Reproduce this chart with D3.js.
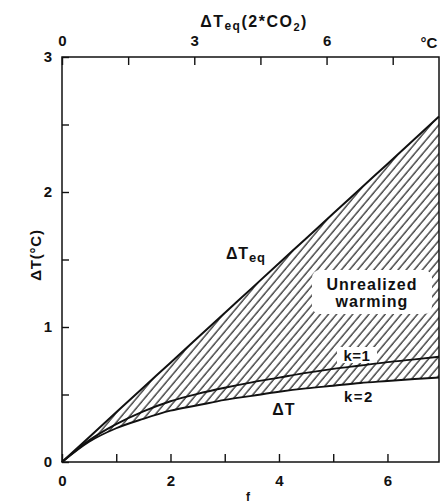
<!DOCTYPE html>
<html><head><meta charset="utf-8">
<script src="https://cdn.jsdelivr.net/npm/d3@7/dist/d3.min.js"></script>
<style>body{margin:0;background:#fff}svg{display:block}</style>
</head><body>
<svg id="c" width="446" height="503"></svg>
<script>
// ---- data ----
const fValues   = [0, 0.5, 1, 1.5, 2, 2.5, 3, 3.5, 4, 4.5, 5, 5.5, 6, 6.5, 6.95];
const teqValues = [0, 0.184, 0.368, 0.552, 0.736, 0.92, 1.104, 1.288, 1.472, 1.656, 1.84, 2.024, 2.208, 2.392, 2.56];
const k1Values  = [0, 0.16, 0.28, 0.375, 0.45, 0.505, 0.55, 0.59, 0.625, 0.66, 0.69, 0.715, 0.74, 0.76, 0.78];
const k2Values  = [0, 0.15, 0.25, 0.32, 0.38, 0.42, 0.46, 0.49, 0.52, 0.545, 0.565, 0.585, 0.60, 0.615, 0.626];
const bottomTicks  = [0, 1, 2, 3, 4, 5, 6];
const bottomLabels = [0, 2, 4, 6];
const leftTicks    = [0, 0.5, 1, 1.5, 2, 2.5, 3];
const leftLabels   = [0, 1, 2, 3];
const topTicks     = [0, 1.5, 3, 4.5, 6, 7.5];
const topLabels    = [0, 3, 6];

const W = 446, H = 503;
const m = {l: 62, r: 7, t: 57, b: 41};
const svg = d3.select('#c');
const FONT = 'Liberation Sans, Arial, Helvetica, sans-serif';

const x = d3.scaleLinear().domain([0, 6.95]).range([m.l, W - m.r]);
const y = d3.scaleLinear().domain([0, 3]).range([H - m.b, m.t]);
const xTop = d3.scaleLinear().domain([0, 8.55]).range([m.l, W - m.r]);

const rows = fValues.map((f, i) => ({f, teq: teqValues[i], k1: k1Values[i], k2: k2Values[i]}));

// hatch pattern
const defs = svg.append('defs');
const pat = defs.append('pattern').attr('id', 'hatch')
  .attr('patternUnits', 'userSpaceOnUse').attr('width', 6.2).attr('height', 10)
  .attr('patternTransform', 'rotate(40)');
pat.append('line').attr('x1', 1).attr('y1', -2).attr('x2', 1).attr('y2', 12)
  .attr('stroke', '#111').attr('stroke-width', 1.15);

// hatched area between ΔTeq and k=2
const area = d3.area().x(d => x(d.f)).y0(d => y(d.k2)).y1(d => y(d.teq)).curve(d3.curveMonotoneX);
svg.append('path').datum(rows).attr('d', area).attr('fill', 'url(#hatch)');

// white label patches
svg.append('rect').attr('x', 312).attr('y', 270).attr('width', 120).attr('height', 44)
  .attr('rx', 8).attr('fill', '#fff');
svg.append('rect').attr('x', 337).attr('y', 347).attr('width', 40).attr('height', 16)
  .attr('fill', '#fff');

// curves
const line = key => d3.line().x(d => x(d.f)).y(d => y(d[key])).curve(d3.curveMonotoneX);
svg.append('path').datum(rows).attr('d', line('teq')).attr('fill', 'none').attr('stroke', '#111').attr('stroke-width', 2);
svg.append('path').datum(rows).attr('d', line('k1')).attr('fill', 'none').attr('stroke', '#111').attr('stroke-width', 1.9);
svg.append('path').datum(rows).attr('d', line('k2')).attr('fill', 'none').attr('stroke', '#111').attr('stroke-width', 1.9);

// frame
svg.append('rect').attr('x', m.l).attr('y', m.t).attr('width', W - m.r - m.l).attr('height', H - m.b - m.t)
  .attr('fill', 'none').attr('stroke', '#111').attr('stroke-width', 1.5);

function styleAxis(g) {
  g.select('.domain').remove();
  g.selectAll('.tick line').attr('stroke', '#111').attr('stroke-width', 1.4);
  g.selectAll('.tick text').attr('fill', '#111').attr('font-family', FONT)
    .attr('font-weight', 'bold').attr('font-size', 15);
}

// bottom axis
svg.append('g').attr('transform', `translate(0,${H - m.b})`)
  .call(d3.axisBottom(x).tickValues(bottomTicks).tickSize(-8).tickPadding(13)
    .tickFormat(d => bottomLabels.includes(d) ? d3.format('d')(d) : ''))
  .call(styleAxis);

// left axis
svg.append('g').attr('transform', `translate(${m.l},0)`)
  .call(d3.axisLeft(y).tickValues(leftTicks).tickSize(-7).tickPadding(10)
    .tickFormat(d => leftLabels.includes(d) ? d3.format('d')(d) : ''))
  .call(styleAxis);

// top axis
svg.append('g').attr('transform', `translate(0,${m.t})`)
  .call(d3.axisTop(xTop).tickValues(topTicks).tickSize(-8).tickPadding(11)
    .tickFormat(d => topLabels.includes(d) ? d3.format('d')(d) : ''))
  .call(styleAxis);

// texts
function txt(xp, yp, size, anchor) {
  return svg.append('text').attr('x', xp).attr('y', yp).attr('font-family', FONT)
    .attr('font-weight', 'bold').attr('font-size', size).attr('fill', '#111').attr('text-anchor', anchor || 'start');
}
txt(429, 48, 15, 'middle').text('°C');

const title = txt(254, 27, 16, 'middle').attr('letter-spacing', 1.5);
title.append('tspan').text('ΔT');
title.append('tspan').attr('font-size', 12).attr('dy', 3).text('eq');
title.append('tspan').attr('dy', -3).text('(2*CO');
title.append('tspan').attr('font-size', 11).attr('dy', 4).text('2');
title.append('tspan').attr('dy', -4).text(')');

txt(248, 501, 12, 'middle').text('f');

const yl = txt(0, 0, 15, 'middle').attr('letter-spacing', 0.8).attr('transform', 'translate(41,255) rotate(-90)');
yl.append('tspan').text('ΔT(°C)');

const teqL = txt(226, 259, 16, 'start').attr('letter-spacing', 0.8);
teqL.append('tspan').text('ΔT');
teqL.append('tspan').attr('font-size', 13).attr('dy', 3).text('eq');

txt(372, 290, 16, 'middle').attr('letter-spacing', 1).text('Unrealized');
txt(372, 307, 16, 'middle').attr('letter-spacing', 1).text('warming');
txt(357, 361, 15, 'middle').attr('letter-spacing', 0.5).text('k=1');
txt(359, 402, 15, 'middle').attr('letter-spacing', 1.5).text('k=2');
txt(284, 415, 16, 'middle').attr('letter-spacing', 1).text('ΔT');
</script>
</body></html>
